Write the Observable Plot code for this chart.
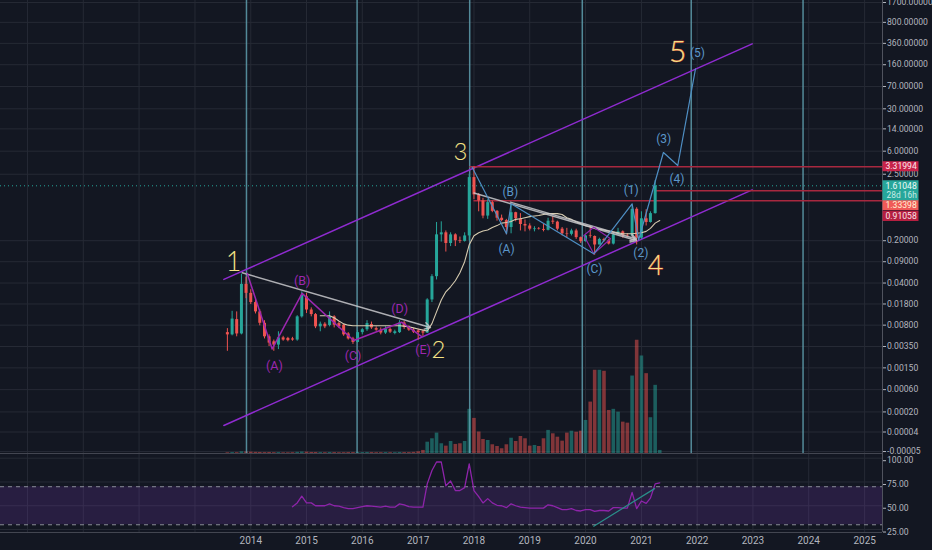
<!DOCTYPE html>
<html><head><meta charset="utf-8">
<script src="https://cdn.jsdelivr.net/npm/d3@7"></script>
<script src="https://cdn.jsdelivr.net/npm/@observablehq/plot@0.6"></script>
<style>
html,body{margin:0;padding:0;background:#131722;}
#chart{position:relative;width:932px;height:550px;overflow:hidden;background:#131722;}
#chart svg{position:absolute;left:0;}
</style></head><body><div id="chart"></div>
<script>
// ---------- DATA (monthly candles) ----------
const months = [
"2013-08","2013-09","2013-10","2013-11","2013-12",
"2014-01","2014-02","2014-03","2014-04","2014-05","2014-06","2014-07","2014-08","2014-09","2014-10","2014-11","2014-12",
"2015-01","2015-02","2015-03","2015-04","2015-05","2015-06","2015-07","2015-08","2015-09","2015-10","2015-11","2015-12",
"2016-01","2016-02","2016-03","2016-04","2016-05","2016-06","2016-07","2016-08","2016-09","2016-10","2016-11","2016-12",
"2017-01","2017-02","2017-03","2017-04","2017-05","2017-06","2017-07","2017-08","2017-09","2017-10","2017-11","2017-12",
"2018-01","2018-02","2018-03","2018-04","2018-05","2018-06","2018-07","2018-08","2018-09","2018-10","2018-11","2018-12",
"2019-01","2019-02","2019-03","2019-04","2019-05","2019-06","2019-07","2019-08","2019-09","2019-10","2019-11","2019-12",
"2020-01","2020-02","2020-03","2020-04","2020-05","2020-06","2020-07","2020-08","2020-09","2020-10","2020-11","2020-12",
"2021-01","2021-02","2021-03","2021-04","2021-05"];
const opens = [
0.0060,0.0055,0.0099,0.0057,0.0380,
0.0270,0.0190,0.0133,0.0086,0.0051,0.0042,0.0037,0.0049,0.0048,0.0047,0.0045,0.0110,
0.0237,0.0143,0.0120,0.0075,0.0083,0.0079,0.0110,0.0085,0.0080,0.0057,0.0047,0.0041,
0.0060,0.0067,0.0082,0.0070,0.0066,0.0059,0.0068,0.0058,0.0060,0.0087,0.0073,0.0066,
0.0064,0.0062,0.0059,0.0210,0.0510,0.2500,0.2700,0.1800,0.2500,0.2000,0.1950,0.2400,
2.2000,1.1400,0.9100,0.5100,0.8500,0.6100,0.4700,0.4300,0.3300,0.5800,0.4600,0.3700,
0.3500,0.3050,0.3130,0.3070,0.2970,0.4200,0.4050,0.3100,0.2600,0.2550,0.2900,0.2250,
0.1930,0.2400,0.2350,0.1700,0.2100,0.2000,0.1760,0.2500,0.2800,0.2450,0.2400,0.6600,
0.2200,0.4600,0.4000,0.5600,1.6000];
const highs = [
0.0070,0.0136,0.0133,0.0560,0.0500,
0.0310,0.0220,0.0145,0.0095,0.0055,0.0045,0.0062,0.0052,0.0050,0.0050,0.0115,0.0286,
0.0270,0.0155,0.0125,0.0090,0.0088,0.0133,0.0115,0.0090,0.0082,0.0060,0.0050,0.0065,
0.0070,0.0095,0.0090,0.0075,0.0072,0.0075,0.0072,0.0066,0.0095,0.0092,0.0078,0.0070,
0.0068,0.0066,0.0220,0.0550,0.4000,0.4100,0.2900,0.2700,0.2600,0.2300,0.2700,2.5000,
3.3199,1.2000,1.0000,0.9500,0.9000,0.6300,0.5300,0.4500,0.7800,0.5900,0.5600,0.4400,
0.3800,0.3400,0.3300,0.3700,0.4700,0.5000,0.4200,0.3300,0.3200,0.3100,0.3100,0.2300,
0.2500,0.3400,0.2400,0.2200,0.2200,0.2100,0.2600,0.3200,0.2900,0.2600,0.7800,0.7000,
0.6000,0.6500,0.6000,1.9600,1.6200];
const lows = [
0.0029,0.0053,0.0051,0.0055,0.0220,
0.0176,0.0123,0.0078,0.0047,0.0035,0.0029,0.0031,0.0043,0.0042,0.0043,0.0043,0.0105,
0.0125,0.0110,0.0070,0.0062,0.0070,0.0075,0.0072,0.0070,0.0052,0.0045,0.0038,0.0040,
0.0055,0.0063,0.0068,0.0063,0.0055,0.0056,0.0058,0.0055,0.0058,0.0068,0.0063,0.0058,
0.0045,0.0052,0.0058,0.0190,0.0450,0.1900,0.1300,0.1600,0.1600,0.1800,0.1900,0.2000,
0.9500,0.6000,0.4600,0.4500,0.5800,0.4200,0.4100,0.2500,0.2600,0.4100,0.2900,0.2800,
0.2900,0.2800,0.3000,0.2800,0.2900,0.3700,0.2900,0.2400,0.2200,0.2400,0.2100,0.1800,
0.1900,0.2200,0.1150,0.1700,0.1900,0.1700,0.1700,0.2500,0.2200,0.2300,0.2400,0.1700,
0.2100,0.3500,0.3900,0.5500,1.5700];
const closes = [
0.0055,0.0101,0.0057,0.0380,0.0270,
0.0190,0.0133,0.0086,0.0051,0.0040,0.0037,0.0049,0.0045,0.0044,0.0045,0.0110,0.0250,
0.0143,0.0120,0.0075,0.0083,0.0075,0.0110,0.0080,0.0075,0.0055,0.0047,0.0041,0.0060,
0.0067,0.0085,0.0072,0.0066,0.0059,0.0068,0.0061,0.0062,0.0087,0.0073,0.0066,0.0061,
0.0060,0.0059,0.0210,0.0510,0.2500,0.2700,0.1800,0.2500,0.2000,0.1950,0.2400,2.2000,
1.1400,0.9100,0.5100,0.8500,0.6100,0.4700,0.4300,0.3300,0.5800,0.4600,0.3700,0.3500,
0.3100,0.3130,0.3070,0.2970,0.4200,0.4050,0.3100,0.2600,0.2550,0.2900,0.2250,0.1930,
0.2400,0.2350,0.1700,0.2100,0.2000,0.1760,0.2500,0.2800,0.2400,0.2400,0.6600,0.2200,
0.4600,0.4000,0.5600,1.6000,1.6105];
// volume (relative units, Dec 2020 = 100)
const volumes = [
0.6,0.8,0.7,1.5,1.4,
1.2,1.0,0.9,0.8,0.9,0.7,0.8,0.6,0.6,0.7,1.0,1.3,
1.2,0.9,0.9,0.8,0.7,0.9,0.8,0.7,0.7,0.8,0.8,0.9,
0.8,0.9,0.8,0.7,0.7,0.8,0.7,0.7,0.9,0.8,0.8,1.0,
1.5,2.7,10.0,13.0,18.0,8.6,6.5,10.6,8.0,8.6,10.6,39.0,
31.0,19.0,12.4,11.5,7.7,6.2,4.2,7.7,13.5,10.6,15.0,13.0,
6.5,7.1,6.2,13.0,20.4,17.4,14.4,10.9,18.0,19.7,18.8,19.7,
29.2,45.4,73.5,73.5,72.6,38.0,39.0,36.5,27.7,26.8,68.4,100.0,
86.1,70.5,31.6,60.2,2.7];
// RSI(14)
const rsiValues = [
null,null,null,null,null,
null,null,null,null,null,null,null,null,null,49,53,60,
53,53,50,50,50,52,50,49.5,48,47,47,48,
49,50,49.5,49,48.5,49.5,48.5,48.5,52,51,49,48.5,
48.5,48.5,73,87,96,96,71,76,66,66,69,94,
66,59.5,53,57.5,53,50.5,50,48,52,50,48.5,48,
47.5,47.5,47.5,47.5,51,50,48,46,46,47,45,44.5,
46,46,44,45,45,44.5,48,48,47.5,47.5,64,47,
55,52.5,58,73,74];
// moving average line
const maValues = [
null,null,null,null,null,
null,null,null,null,null,null,null,null,null,null,null,null,
null,null,null,0.0115,0.0115,0.0115,0.0106,0.0094,0.0084,0.0080,0.0078,0.0078,
0.0078,0.0078,0.0078,0.0078,0.0078,0.0078,0.0078,0.0078,0.0078,0.0077,0.0075,0.0072,
0.0069,0.0066,0.0064,0.0085,0.0133,0.021,0.0286,0.0347,0.0436,0.059,0.090,0.172,
0.242,0.27,0.29,0.30,0.33,0.355,0.39,0.40,0.414,0.45,0.46,0.48,
0.50,0.51,0.52,0.54,0.56,0.56,0.56,0.54,0.48,0.45,0.41,0.38,
0.355,0.34,0.32,0.31,0.30,0.29,0.28,0.27,0.26,0.26,0.26,0.265,
0.27,0.285,0.32,0.39,0.43];

// axes
const priceTicks = [1700,800,360,160,70,30,14,6,2.5,0.2,0.09,0.04,0.018,0.008,0.0035,0.0015,0.0006,0.0002,0.00004,-0.00005];
const rsiTicks = [25,50,75,100];
const yearLabels = ["2014","2015","2016","2017","2018","2019","2020","2021","2022","2023","2024","2025"];
const gridYears = ["2010","2011","2012","2013","2014","2015","2016","2017","2018","2019","2020","2021","2022","2023","2024","2025"];

// drawings (date, price)
const cycleDates = ["2013-12-04","2015-11-28","2017-12-04","2019-12-11","2021-11-23","2023-11-25"];
const channelUpper = [{date:"2013-07-09",price:0.0459},{date:"2022-12-27",price:354}];
const channelLower = [{date:"2013-07-09",price:0.0000793},{date:"2022-12-27",price:1.38}];
const trendLines = [
  {x1:"2013-11-06",y1:0.0592,x2:"2017-03-22",y2:0.0073},
  {x1:"2018-01-01",y1:1.226,x2:"2020-11-29",y2:0.2018},
  {x1:"2018-08-27",y1:0.864,x2:"2020-11-29",y2:0.2136}];
const correctionPath = [
  {date:"2013-12-09",price:0.0577},{date:"2014-05-21",price:0.00318},{date:"2014-12-03",price:0.0270},
  {date:"2015-11-06",price:0.00442},{date:"2016-09-14",price:0.00897},{date:"2017-01-22",price:0.00517}];
const correctionLabels = [
  {date:"2014-06-05",price:0.00165,label:"(A)"},{date:"2014-12-03",price:0.0430,label:"(B)"},
  {date:"2015-11-02",price:0.00239,label:"(C)"},{date:"2016-09-02",price:0.01508,label:"(D)"},
  {date:"2017-02-02",price:0.00308,label:"(E)"}];
const wavePath = [
  {date:"2017-12-20",price:3.265},{date:"2018-08-02",price:0.2602},{date:"2018-09-01",price:0.8135},
  {date:"2020-02-24",price:0.1218},{date:"2020-11-01",price:0.8135},{date:"2020-12-14",price:0.2072},
  {date:"2021-05-25",price:5.706},{date:"2021-08-27",price:3.483},{date:"2021-12-21",price:137}];
const waveLabels = [
  {date:"2018-08-02",price:0.1472,label:"(A)"},{date:"2018-08-27",price:1.264,label:"(B)"},
  {date:"2020-02-28",price:0.0689,label:"(C)"},{date:"2020-10-26",price:1.348,label:"(1)"},
  {date:"2020-12-28",price:0.1232,label:"(2)"},{date:"2021-05-27",price:9.60,label:"(3)"},
  {date:"2021-08-22",price:2.046,label:"(4)"},{date:"2022-01-03",price:245,label:"(5)"}];
const diamond = [
  {date:"2019-12-21",price:0.2441},{date:"2020-02-24",price:0.3344},{date:"2020-06-13",price:0.2153},
  {date:"2020-02-24",price:0.1218},{date:"2019-12-21",price:0.2441}];
const bigCounts = [
  {date:"2013-09-11",price:0.0875,label:"1"},{date:"2017-05-14",price:0.00299,label:"2"},
  {date:"2017-10-05",price:5.706,label:"3"},{date:"2021-04-03",price:0.0752,label:"4"},
  {date:"2021-08-26",price:254.5,label:"5"}];
const levels = [{price:3.31994,from:"2017-12-05"},{price:1.33398,from:"2021-04-05"},{price:0.91058,from:"2018-01-01"}];
const lastPrice = 1.61048;
const countdown = "28d 16h";
const rsiTrend = [{date:"2020-02-24",rsi:28.5},{date:"2021-03-28",rsi:68}];

// ---------- RENDER ----------
const parse = s => new Date(s.length === 4 ? s + "-01-01" : s.length === 7 ? s + "-01" : s);
const candles = months.map((m, i) => ({date: parse(m), open: opens[i], high: highs[i], low: lows[i], close: closes[i],
  volume: volumes[i], rsi: rsiValues[i], ma: maValues[i]}));
const up = d => d.close >= d.open;
const TEAL = "#26a69a", RED = "#ef5350", GRID = "#262a35", TEXT = "#b2b5be";
const W = 932, RIGHT = 50, PH = 453;
const xDomain = [new Date("2009-07-08"), new Date("2025-04-28")];
const priceDomain = [-0.0000616, 1834];
const xScale = {type: "utc", domain: xDomain, range: [0, W - RIGHT], axis: null};
const yPrice = {type: "symlog", constant: 0.0001, domain: priceDomain, range: [PH, 0], axis: null};
const base = {width: W, marginLeft: 0, marginRight: RIGHT, marginTop: 0, color: {type: "identity"},
  style: {background: "transparent", color: TEXT, fontFamily: "Roboto, sans-serif", overflow: "visible"}};
const box = (w, h) => ({draw(ctx) { ctx.moveTo(-w/2, -h/2); ctx.lineTo(w/2, -h/2); ctx.lineTo(w/2, h/2); ctx.lineTo(-w/2, h/2); ctx.closePath(); }});
const AXFS = 8.6;

const gridPlot = Plot.plot({...base, height: PH, marginBottom: 0, x: xScale, y: yPrice,
  marks: [
    Plot.gridX(gridYears.map(parse), {stroke: GRID, strokeOpacity: 1}),
    Plot.gridY(priceTicks, {stroke: GRID, strokeOpacity: 1})
  ]});

const volPlot = Plot.plot({...base, height: PH, marginBottom: 0, x: xScale,
  y: {domain: [0, 400], range: [PH, 0], axis: null},
  marks: [Plot.ruleX(candles, {x: "date", y1: 0, y2: "volume", stroke: d => up(d) ? TEAL : RED, strokeOpacity: 0.5, strokeWidth: 3.6})]});

const PURPLE = "#8f2bd0", MAGENTA = "#9c27b0", BLUE = "#4f8fc4", YELLOW = "#f3e285";
const labelBoxes = [
  {price: 3.31994, text: "3.31994", fill: "#c8234a", color: "#fde8ec", dy: -0.5, h: 10},
  {price: 1.33398, text: "1.33398", fill: "#f05a58", color: "#fff2d6", dy: 14, h: 10.5},
  {price: 0.91058, text: "0.91058", fill: "#b51f40", color: "#fbe3e8", dy: 15, h: 10.5}];

const mainMarks = [
  Plot.ruleX(cycleDates.map(parse), {stroke: "#5f9fae", strokeWidth: 1.5, strokeOpacity: 0.85}),
  Plot.line(channelUpper, {x: d => parse(d.date), y: "price", stroke: PURPLE, strokeWidth: 1.5}),
  Plot.line(channelLower, {x: d => parse(d.date), y: "price", stroke: PURPLE, strokeWidth: 1.5}),
  Plot.ruleY(levels, {y: "price", x1: d => parse(d.from), x2: () => xDomain[1], stroke: "#a8283f", strokeWidth: 1.6}),
  Plot.ruleY([lastPrice], {stroke: TEAL, strokeDasharray: "1,3"}),
  Plot.ruleX(candles, {x: "date", y1: "low", y2: "high", stroke: d => up(d) ? TEAL : RED, strokeWidth: 1}),
  Plot.ruleX(candles, {x: "date", y1: "open", y2: "close", stroke: d => up(d) ? TEAL : RED, strokeWidth: 3}),
  Plot.line(candles, {x: "date", y: "ma", stroke: "#d6cbb0", strokeWidth: 1.1}),
  Plot.arrow(trendLines, {x1: d => parse(d.x1), y1: "y1", x2: d => parse(d.x2), y2: "y2", stroke: "#c9c9cc", strokeWidth: 1.4, strokeOpacity: 0.85, headLength: 7}),
  Plot.line(correctionPath, {x: d => parse(d.date), y: "price", stroke: MAGENTA, strokeWidth: 1.5}),
  Plot.text(correctionLabels, {x: d => parse(d.date), y: "price", text: "label", fill: MAGENTA, fontSize: 12.5}),
  Plot.line(diamond, {x: d => parse(d.date), y: "price", stroke: "#8e24aa", strokeWidth: 1.2}),
  Plot.line(wavePath, {x: d => parse(d.date), y: "price", stroke: BLUE, strokeWidth: 1.2}),
  Plot.text(waveLabels, {x: d => parse(d.date), y: "price", text: "label", fill: "#5b96c9", fontSize: 12}),
  Plot.text(bigCounts, {x: d => parse(d.date), y: "price", text: "label", fill: YELLOW,
    fontSize: d => d.label === "5" ? 30 : d.label === "1" || d.label === "4" ? 27 : 24,
    fontFamily: "Lato, sans-serif", fontWeight: 300,
    stroke: d => d.label === "5" || d.label === "4" ? "#e0453a" : "none", strokeWidth: 0.7, paintOrder: "stroke"}),
  Plot.ruleX([xDomain[1]], {stroke: "#50535e", strokeWidth: 1}),
  Plot.axisY({anchor: "right", ticks: priceTicks, tickFormat: d => d.toFixed(5), tickSize: 3, tickPadding: 1.5, fontSize: AXFS, label: null}),
  // price label boxes on the axis
  ...labelBoxes.flatMap(b => [
    Plot.dot([b.price], {y: d => d, frameAnchor: "right", dx: 18, dy: b.dy, symbol: box(36, b.h), fill: b.fill, stroke: "none"}),
    Plot.text([b.text], {y: () => b.price, text: d => d, frameAnchor: "right", dx: 3, dy: b.dy, textAnchor: "start", fill: b.color, fontSize: AXFS})
  ]),
  Plot.dot([lastPrice], {y: d => d, frameAnchor: "right", dx: 18, dy: 4.5, symbol: box(36, 20), fill: TEAL, stroke: "none"}),
  Plot.text([lastPrice], {y: d => d, text: d => d.toFixed(5), frameAnchor: "right", dx: 3, textAnchor: "start", fill: "#eefaf8", fontSize: AXFS}),
  Plot.text([countdown], {y: () => lastPrice, text: d => d, frameAnchor: "right", dx: 4, dy: 9.5, textAnchor: "start", fill: "#c6ebe6", fontSize: 8.4})
];
const mainPlot = Plot.plot({...base, height: PH, marginBottom: 0, x: xScale, y: yPrice, marks: mainMarks});

const RH = 97, RB = 18;
const rsiPlot = Plot.plot({...base, height: RH, marginBottom: RB, x: xScale,
  y: {domain: [21.87, 104.94], range: [RH - RB, 0], axis: null},
  marks: [
    Plot.gridX(gridYears.map(parse), {stroke: GRID, strokeOpacity: 1}),
    Plot.gridY(rsiTicks, {stroke: GRID, strokeOpacity: 1}),
    Plot.rect([0], {x1: () => xDomain[0], x2: () => xDomain[1], y1: 30, y2: 70, fill: "#7b3cc0", fillOpacity: 0.2}),
    Plot.ruleY([30, 70], {stroke: "#8a8d98", strokeDasharray: "4,4"}),
    Plot.line(candles, {x: "date", y: "rsi", stroke: "#8e24aa", strokeWidth: 1.3}),
    Plot.line(rsiTrend, {x: d => parse(d.date), y: "rsi", stroke: "#2a8f8a", strokeWidth: 1.2}),
    Plot.ruleY([104.94], {stroke: "#434651"}),
    Plot.ruleY([21.87], {stroke: "#434651"}),
    Plot.ruleX([xDomain[1]], {stroke: "#50535e"}),
    Plot.axisY({anchor: "right", ticks: rsiTicks, tickFormat: d => d.toFixed(2), tickSize: 3, tickPadding: 1.5, fontSize: AXFS, dy: 2.5, label: null}),
    Plot.axisX({anchor: "bottom", ticks: yearLabels.map(parse), tickFormat: "%Y", tickSize: 0, tickPadding: 4, fontSize: 10, label: null})
  ]});

const chart = document.getElementById("chart");
[gridPlot, volPlot, mainPlot].forEach(p => { p.style.position = "absolute"; p.style.top = "0px"; p.style.left = "0px"; chart.appendChild(p); });
rsiPlot.style.position = "absolute"; rsiPlot.style.top = PH + "px"; rsiPlot.style.left = "0px";
chart.appendChild(rsiPlot);
</script>
</body></html>
